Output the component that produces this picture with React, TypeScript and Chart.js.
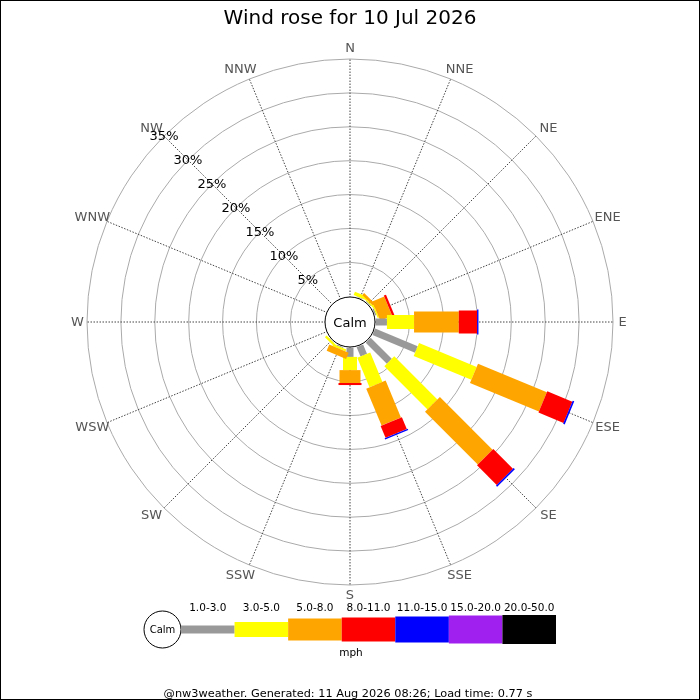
import { useEffect, useRef } from "react";
import { Chart, registerables } from "chart.js";

Chart.register(...registerables);

const directions = ["N", "NNE", "NE", "ENE", "E", "ESE", "SE", "SSE", "S", "SSW", "SW", "WSW", "W", "WNW", "NW", "NNW"];
const speedBands = ["1.0-3.0", "3.0-5.0", "5.0-8.0", "8.0-11.0", "11.0-15.0", "15.0-20.0", "20.0-50.0"];

// percentage of the day per direction (N..NNW) for each speed band
const band1to3 = [0, 0.1, 0.1, 0.2, 1.65, 6.8, 4.4, 1.5, 1.35, 0.15, 0.05, 0, 0, 0, 0, 0];
const band3to5 = [0, 0.5, 0.2, 0.2, 4.0, 9.2, 9.0, 4.7, 1.95, 0.3, 0.35, 0, 0, 0, 0, 0];
const band5to8 = [0, 0, 0.4, 1.9, 6.6, 11.0, 11.0, 5.9, 1.9, 1.0, 0, 0, 0, 0, 0, 0];
const band8to11 = [0, 0, 0, 0.35, 2.7, 4.0, 4.1, 1.9, 0.3, 0, 0, 0, 0, 0, 0, 0];
const band11to15 = [0, 0, 0, 0, 0.2, 0.25, 0.25, 0.2, 0, 0, 0, 0, 0, 0, 0, 0];
const band15to20 = [0, 0, 0, 0, 0, 0, 0, 0, 0, 0, 0, 0, 0, 0, 0, 0];
const band20to50 = [0, 0, 0, 0, 0, 0, 0, 0, 0, 0, 0, 0, 0, 0, 0, 0];

const radialTicks = [5, 10, 15, 20, 25, 30, 35];

const bandColors = ["#999999", "#ffff00", "#ffa500", "#ff0000", "#0000ff", "#a020f0", "#000000"];
const bandWidths = [7, 14, 21, 23, 25, 27, 28];

const titleText = "Wind rose for 10 Jul 2026";
const footerText = "@nw3weather. Generated: 11 Aug 2026 08:26; Load time: 0.77 s";
const FONT = "'DejaVu Sans', sans-serif";

const windRosePlugin = {
  id: "windRose",
  afterDraw(chart: any) {
    const ctx: CanvasRenderingContext2D = chart.ctx;
    const s = chart.scales.r;
    const cx = s.xCenter;
    const cy = s.yCenter;
    const sets = chart.data.datasets;

    // stacked bars
    directions.forEach((_, i) => {
      let cum = 0;
      const angle = s.getIndexAngle(i) - Math.PI / 2;
      sets.forEach((ds: any, k: number) => {
        const v = ds.data[i] || 0;
        if (v > 0) {
          const r0 = s.getDistanceFromCenterForValue(cum);
          const r1 = s.getDistanceFromCenterForValue(cum + v);
          const w = bandWidths[k];
          ctx.save();
          ctx.translate(cx, cy);
          ctx.rotate(angle);
          ctx.fillStyle = ds.backgroundColor;
          ctx.fillRect(r0, -w / 2, r1 - r0, w);
          ctx.restore();
        }
        cum += v;
      });
    });

    // calm circle
    ctx.save();
    ctx.beginPath();
    ctx.arc(cx, cy, 25, 0, Math.PI * 2);
    ctx.fillStyle = "#ffffff";
    ctx.fill();
    ctx.strokeStyle = "#000000";
    ctx.lineWidth = 1;
    ctx.stroke();
    ctx.fillStyle = "#000";
    ctx.font = `13px ${FONT}`;
    ctx.textAlign = "center";
    ctx.textBaseline = "alphabetic";
    ctx.fillText("Calm", cx, cy + 5);

    // direction labels
    ctx.font = `13px ${FONT}`;
    ctx.fillStyle = "#555555";
    ctx.textBaseline = "middle";
    directions.forEach((d, i) => {
      const a = s.getIndexAngle(i);
      const sn = Math.sin(a);
      const side = Math.abs(sn) < 0.01 ? 0 : Math.sign(sn);
      const dist = Math.abs(sn) > 0.99 ? 267.5 : 273.5;
      const p = s.getPointPosition(i, dist);
      ctx.fillText(d, p.x + 5 * side, p.y + 0.5);
    });

    // percentage labels along NW
    ctx.fillStyle = "#000";
    const nw = directions.indexOf("NW");
    radialTicks.forEach((t) => {
      const p = s.getPointPositionForValue(nw, t);
      ctx.fillText(t + "%", p.x, p.y + 0.5);
    });

    // title
    ctx.font = `20px ${FONT}`;
    ctx.textBaseline = "alphabetic";
    ctx.fillText(titleText, 350, 24);

    // legend
    const ly = 629.5;
    const lx0 = 181;
    const seg = (556 - 181) / speedBands.length;
    ctx.beginPath();
    ctx.arc(162.5, ly, 18.5, 0, Math.PI * 2);
    ctx.fillStyle = "#fff";
    ctx.fill();
    ctx.strokeStyle = "#000";
    ctx.stroke();
    ctx.fillStyle = "#000";
    ctx.font = `10px ${FONT}`;
    ctx.fillText("Calm", 162.5, ly + 3.5);
    ctx.font = `10.5px ${FONT}`;
    speedBands.forEach((b, k) => {
      const x = lx0 + k * seg;
      const h = bandWidths[k] + 1;
      ctx.fillStyle = sets[k].backgroundColor;
      ctx.fillRect(x, ly - h / 2, seg, h);
      ctx.fillStyle = "#000";
      ctx.fillText(b, x + seg / 2, 611);
    });
    ctx.fillText("mph", 351, 656);

    // footer
    ctx.font = `11.3px ${FONT}`;
    ctx.fillText(footerText, 348, 697);

    // border
    ctx.strokeStyle = "#000";
    ctx.lineWidth = 1;
    ctx.strokeRect(0.5, 0.5, 699, 699);
    ctx.restore();
  },
};

export default function App() {
  const ref = useRef<HTMLCanvasElement | null>(null);
  useEffect(() => {
    if (!ref.current) return;
    const bands = [band1to3, band3to5, band5to8, band8to11, band11to15, band15to20, band20to50];
    const chart = new Chart(ref.current, {
      type: "radar",
      data: {
        labels: directions,
        datasets: bands.map((b, k) => ({
          label: speedBands[k],
          data: b,
          backgroundColor: bandColors[k],
          borderColor: bandColors[k],
          borderWidth: 0,
          pointRadius: 0,
          pointHoverRadius: 0,
          showLine: false,
          fill: false,
        })),
      },
      options: {
        responsive: false,
        animation: false,
        devicePixelRatio: 1,
        layout: { padding: { left: 87, right: 87, top: 59, bottom: 115 } },
        plugins: {
          legend: { display: false },
          tooltip: { enabled: false },
          title: { display: false },
        },
        scales: {
          r: {
            min: -3.8,
            max: 35,
            afterBuildTicks: (scale: any) => {
              scale.ticks = [-3.8, ...radialTicks].map((v) => ({ value: v }));
            },
            ticks: { display: false },
            pointLabels: { display: false },
            grid: { circular: true, color: "#aaaaaa", lineWidth: 1 },
            angleLines: { color: "#444444", lineWidth: 1, borderDash: [1.5, 1.5] },
          },
        },
      } as any,
      plugins: [windRosePlugin],
    });
    return () => chart.destroy();
  }, []);
  return (
    <div style={{ position: "absolute", left: 0, top: 0, width: 700, height: 700, background: "#fff" }}>
      <canvas ref={ref} width={700} height={700} style={{ display: "block" }} />
    </div>
  );
}
